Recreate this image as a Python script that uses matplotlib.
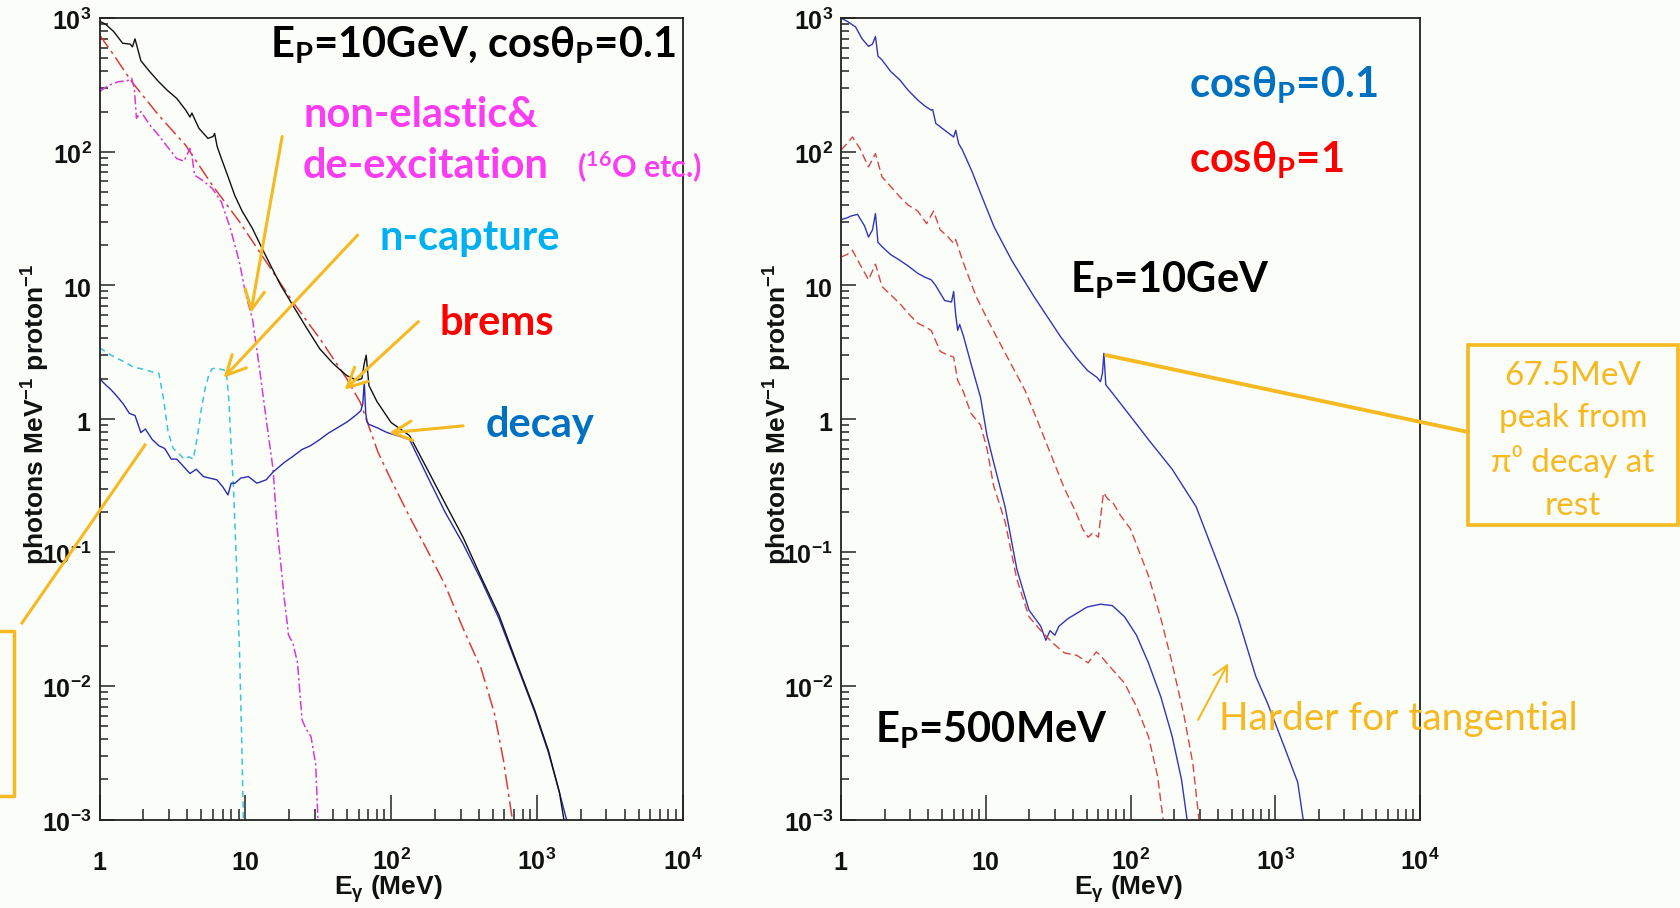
import matplotlib
matplotlib.use('Agg')
import matplotlib.pyplot as plt
import matplotlib.transforms as mtransforms
from matplotlib.lines import Line2D
from matplotlib.patches import Rectangle
from matplotlib.ticker import LogLocator, NullFormatter

plt.rcParams['mathtext.fontset'] = 'custom'
plt.rcParams['mathtext.rm'] = 'Lato:bold'
plt.rcParams['mathtext.it'] = 'Lato:bold'
plt.rcParams['mathtext.bf'] = 'Lato:bold'
plt.rcParams['mathtext.sf'] = 'Liberation Sans:bold'
plt.rcParams['mathtext.fallback'] = 'stixsans'

# ---- left panel: Ep = 10 GeV, cos(theta) = 0.1, by process ----
e_total = [1.0, 1.1, 1.25, 1.44, 1.62, 1.68, 1.75, 1.92, 2.2, 2.54, 2.9, 3.38, 3.9, 4.17,
           4.3, 4.8, 5.54, 6.0, 6.16, 6.4, 6.85, 7.5, 8.47, 9.5, 11.2, 13, 14.9, 17.5, 21.2,
           26, 32.4, 40, 49.6, 58, 63, 65.5, 67.5, 70.5, 80, 100, 134, 178, 235, 312, 416,
           550, 727, 968, 1200, 1430, 1535]
y_total = [950, 900, 794, 649, 640, 610, 700, 480, 400, 335, 290, 251, 205, 182,
           195, 150, 126, 130, 137, 110, 89, 68, 47, 36, 26.6, 19, 14.1, 10, 7.08,
           4.9, 3.35, 2.6, 2.11, 1.95, 2.0, 2.6, 3.0, 1.78, 1.35, 0.94, 0.75, 0.417, 0.233,
           0.13, 0.065, 0.034, 0.015, 0.0066, 0.0033, 0.0016, 0.001]

e_decay = [1.0, 1.1, 1.2, 1.3, 1.45, 1.6, 1.75, 1.92, 2.06, 2.3, 2.55, 2.8, 3.1, 3.38, 3.7,
           4.17, 4.6, 5.16, 5.7, 6.38, 7.0, 7.6, 8.0, 8.5, 9.3, 10.5, 12, 13.9, 15.5, 18.4,
           21, 24.5, 28, 32.4, 37, 43, 50, 57, 62, 64, 65.5, 67, 68.5, 70.5, 80, 94, 110,
           134, 178, 235, 312, 416, 550, 727, 968, 1200, 1430, 1600]
y_decay = [2.0, 1.8, 1.65, 1.5, 1.3, 1.1, 1.06, 0.79, 0.84, 0.7, 0.63, 0.6, 0.5, 0.5, 0.45,
           0.39, 0.42, 0.37, 0.36, 0.35, 0.31, 0.27, 0.33, 0.33, 0.36, 0.37, 0.33, 0.35, 0.4,
           0.47, 0.52, 0.59, 0.63, 0.70, 0.78, 0.86, 0.95, 1.06, 1.15, 1.3, 1.9, 1.1, 0.95,
           0.91, 0.86, 0.79, 0.75, 0.70, 0.37, 0.2, 0.116, 0.062, 0.032, 0.0145, 0.0064,
           0.0032, 0.0016, 0.001]

e_ncap = [1.0, 1.2, 1.45, 1.7, 2.0, 2.3, 2.55, 2.75, 2.95, 3.2, 3.5, 3.8, 4.1, 4.4, 4.7, 5.0,
          5.3, 5.6, 5.9, 6.3, 6.8, 7.4, 7.7, 7.9, 8.3, 8.7, 9.1, 9.4, 9.7]
y_ncap = [3.4, 3.0, 2.7, 2.45, 2.35, 2.25, 2.2, 1.4, 0.8, 0.6, 0.55, 0.5, 0.52, 0.5, 0.75, 1.2,
          1.7, 2.1, 2.37, 2.4, 2.35, 2.3, 1.4, 0.8, 0.3, 0.08, 0.02, 0.005, 0.001]

e_nonel = [1.0, 1.08, 1.17, 1.35, 1.55, 1.66, 1.73, 1.79, 1.92, 2.2, 2.54, 2.9, 3.38, 3.8,
           4.17, 4.3, 4.48, 5.2, 5.95, 6.85, 7.9, 9.1, 10.1, 11.2, 12.5, 13.9, 15.5, 16.5,
           18.4, 19.8, 21.2, 22.8, 24.5, 26, 28.2, 30.4, 31.5]
y_nonel = [282, 300, 316, 335, 340, 355, 300, 178, 200, 160, 133, 110, 89, 85,
           106, 95, 67, 60, 53, 42, 26.6, 15, 8.4, 5.6, 2.4, 1.0, 0.42, 0.155,
           0.048, 0.024, 0.021, 0.015, 0.0056, 0.0048, 0.0042, 0.0026, 0.001]

e_brems = [1.0, 1.25, 1.66, 2.54, 3.89, 5.95, 9.1, 13.9, 21.2, 32.4, 49.6, 61.5, 81.5, 100,
           134, 178, 235, 312, 416, 511, 590, 680]
y_brems = [750, 530, 335, 188, 112, 56, 30, 15, 7.5, 4.0, 2.0, 1.33, 0.56, 0.35,
           0.185, 0.103, 0.057, 0.027, 0.0134, 0.0063, 0.0028, 0.001]

# ---- right panel: cos(theta) = 0.1 (blue) vs 1 (red) ----
e_b10 = [1.0, 1.1, 1.26, 1.4, 1.55, 1.65, 1.73, 1.8, 1.92, 2.2, 2.55, 2.9, 3.39, 3.8, 4.2,
         4.3, 4.52, 5.2, 6.0, 6.2, 6.5, 6.9, 8.0, 9.2, 11.4, 15.1, 21.6, 33, 42, 50.5, 58.5,
         62, 64, 65.5, 67.5, 72, 89, 119, 133, 194, 284, 416, 550, 734, 886, 1180, 1430, 1560]
y_b10 = [1000, 950, 860, 700, 615, 640, 730, 520, 487, 400, 345, 290, 244, 220, 205,
         207, 163, 145, 129, 145, 115, 103, 72, 49, 27.5, 15.4, 8.2, 4.1, 2.9, 2.3, 2.05,
         1.9, 2.2, 3.1, 1.8, 1.65, 1.23, 0.82, 0.7, 0.42, 0.22, 0.075, 0.033, 0.0118,
         0.0074, 0.0033, 0.0019, 0.001]

e_r10 = [1.0, 1.1, 1.2, 1.35, 1.55, 1.73, 1.92, 2.2, 2.55, 2.9, 3.39, 3.9, 4.36, 4.85, 5.5,
         6.0, 6.2, 6.9, 8.6, 10.6, 14.1, 18.7, 23.2, 28, 35, 42, 46.7, 51, 55, 60, 65, 70,
         75, 85, 100, 133, 161, 194, 235, 270, 297]
y_r10 = [103, 115, 129, 106, 77, 97, 65, 55, 46, 40, 36, 29, 36, 26, 23,
         20.6, 22, 15.4, 8.2, 5.2, 2.9, 1.63, 0.92, 0.55, 0.3, 0.2, 0.15, 0.13, 0.14, 0.13,
         0.28, 0.25, 0.24, 0.19, 0.15, 0.067, 0.033, 0.0148, 0.0059, 0.0026, 0.001]

e_b05 = [1.0, 1.1, 1.17, 1.3, 1.45, 1.55, 1.65, 1.73, 1.8, 1.92, 2.2, 2.55, 2.9, 3.39, 3.8,
         4.2, 4.5, 5.2, 5.8, 6.0, 6.2, 6.4, 6.6, 7.0, 7.9, 9.2, 10.2, 11.3, 13.6, 16.4, 19.9,
         24, 26, 27.8, 30, 32, 37, 42.5, 50, 62, 75, 91, 110, 133, 162, 194, 225, 246]
y_b05 = [31, 32, 33, 34, 28, 23, 26, 34.5, 21, 19.5, 17, 15.4, 14, 12.3, 11.5,
         11, 10, 7.7, 7.5, 9.0, 6.0, 4.6, 5.1, 4.2, 2.6, 1.45, 0.75, 0.48, 0.22, 0.075, 0.037,
         0.028, 0.022, 0.026, 0.024, 0.028, 0.032, 0.035, 0.039, 0.041, 0.040, 0.033, 0.024,
         0.0149, 0.0083, 0.0042, 0.002, 0.001]

e_r05 = [1.0, 1.1, 1.2, 1.35, 1.55, 1.73, 1.92, 2.2, 2.55, 2.9, 3.39, 3.8, 4.2, 4.85, 5.5,
         6.0, 6.4, 7.0, 7.9, 9.2, 10.2, 11.3, 13.6, 16.4, 19.9, 24, 29, 35, 42.5, 51, 58,
         62, 68, 75, 91, 110, 133, 154, 168]
y_r05 = [16.3, 17, 18.3, 14.4, 11, 14.4, 9.8, 8.5, 7.3, 6.2, 5.2, 4.9, 4.6, 3.2, 3.0,
         2.9, 1.94, 1.6, 1.1, 0.9, 0.6, 0.32, 0.17, 0.063, 0.033, 0.026, 0.021, 0.0177,
         0.017, 0.0149, 0.018, 0.017, 0.015, 0.0133, 0.0105, 0.007, 0.0042, 0.0021, 0.001]

x_ticks = [1, 10, 100, 1000, 10000]
x_tick_labels = ['1', '10', '10^{2}', '10^{3}', '10^{4}']
y_ticks = [1e-3, 1e-2, 1e-1, 1, 10, 100, 1000]
y_tick_labels = ['10^{-3}', '10^{-2}', '10^{-1}', '1', '10', '10^{2}', '10^{3}']

W, H = 1680, 908
ORANGE = '#f5b921'
BG = '#fbfdf9'
BIG = 30


def fx(p):
    return p / W


def fy(p):
    return 1 - p / H


fig = plt.figure(figsize=(W / 100, H / 100), dpi=100, facecolor=BG)
ax1 = fig.add_axes([fx(99.6), fy(819.6), 582.9 / W, 801.4 / H])
ax2 = fig.add_axes([fx(841), fy(819.6), 579 / W, 801.4 / H])


def setup(ax):
    ax.set_facecolor(BG)
    ax.set_xscale('log')
    ax.set_yscale('log')
    ax.set_xlim(1, 1e4)
    ax.set_ylim(1e-3, 1e3)
    for axis in (ax.xaxis, ax.yaxis):
        axis.set_major_locator(LogLocator(base=10, numticks=20))
        axis.set_minor_locator(LogLocator(base=10, subs=range(2, 10), numticks=100))
        axis.set_minor_formatter(NullFormatter())
    ax.tick_params(which='both', direction='in', top=False, right=False,
                   labelbottom=False, labelleft=False, width=1.1, color='#222222')
    ax.tick_params(axis='x', which='major', length=18)
    ax.tick_params(axis='x', which='minor', length=8)
    ax.tick_params(axis='y', which='major', length=11)
    ax.tick_params(axis='y', which='minor', length=6)
    for s in ax.spines.values():
        s.set_linewidth(1.3)
        s.set_color('#222222')
    xt = mtransforms.offset_copy(ax.get_xaxis_transform(), fig=fig, y=-50, units='dots')
    for v, lab in zip(x_ticks, x_tick_labels):
        ax.text(v, 0, r'$\mathsf{' + lab + '}$', transform=xt, ha='center',
                va='baseline', fontsize=18, color='#111111')
    yt = mtransforms.offset_copy(ax.get_yaxis_transform(), fig=fig, x=-8, y=-12, units='dots')
    for v, lab in zip(y_ticks, y_tick_labels):
        ax.text(0, v, r'$\mathsf{' + lab + '}$', transform=yt, ha='right',
                va='baseline', fontsize=18, color='#111111')


setup(ax1)
setup(ax2)

# left panel curves
ax1.plot(e_brems, y_brems, color='#d83c3c', lw=1.1, dashes=(10, 3, 2, 3))
ax1.plot(e_nonel, y_nonel, color='#d838d8', lw=1.1, dashes=(6, 2, 1.5, 2))
ax1.plot(e_ncap, y_ncap, color='#3cc4d6', lw=1.1, dashes=(4, 3))
ax1.plot(e_decay, y_decay, color='#2b2bb0', lw=1.0)
ax1.plot(e_total, y_total, color='#111111', lw=1.0)

# right panel curves
ax2.plot(e_b10, y_b10, color='#3535b5', lw=1.0)
ax2.plot(e_b05, y_b05, color='#3535b5', lw=1.0)
ax2.plot(e_r10, y_r10, color='#d84545', lw=1.0, dashes=(6, 3))
ax2.plot(e_r05, y_r05, color='#d84545', lw=1.0, dashes=(6, 3))

# axis titles
for xc in (388, 1128):
    fig.text(fx(xc), fy(895), r'$\mathsf{E_{\gamma}\ (MeV)}$', ha='center', va='baseline',
             fontsize=19, color='#111111')
for xc in (36, 778):
    fig.text(fx(xc), fy(414), r'$\mathsf{photons\ MeV^{-1}\ proton^{-1}}$', rotation=90,
             ha='center', va='center', fontsize=19, color='#111111')

bold = dict(family='Lato', weight='bold', ha='left', va='baseline')

# left panel labels
fig.text(fx(270), fy(57), r'$\mathrm{E_P}$=10GeV, cos$\mathrm{\theta_P}$=0.1',
         fontsize=BIG, color='black', **bold)
fig.text(fx(303), fy(127), 'non-elastic&', fontsize=BIG, color='#fa3cf2', **bold)
fig.text(fx(303), fy(178), 'de-excitation', fontsize=BIG, color='#fa3cf2', **bold)
fig.text(fx(577), fy(178), r'$\mathrm{(^{16}O}$ etc.)', fontsize=22, color='#fa3cf2', **bold)
fig.text(fx(380), fy(250), 'n-capture', fontsize=BIG, color='#00b0f0', **bold)
fig.text(fx(440), fy(335), 'brems', fontsize=BIG, color='#ff0000', **bold)
fig.text(fx(486), fy(437), 'decay', fontsize=BIG, color='#0070c0', **bold)

arrow = dict(arrowstyle='->,head_length=0.7,head_width=0.35', color=ORANGE, lw=2.2,
             shrinkA=0, shrinkB=0, mutation_scale=20)
ax1.annotate('', xy=(10.9, 6.2), xytext=(17.9, 130), arrowprops=arrow)
ax1.annotate('', xy=(7.1, 2.03), xytext=(59, 23.8), arrowprops=arrow)
ax1.annotate('', xy=(47.9, 1.65), xytext=(154, 5.35), arrowprops=arrow)
ax1.annotate('', xy=(97, 0.785), xytext=(312, 0.887), arrowprops=arrow)

# left-edge pointer and cropped box
fig.add_artist(Line2D([fx(22), fx(145)], [fy(623), fy(445)], color=ORANGE, lw=2.2))
fig.add_artist(Line2D([fx(0), fx(14), fx(14), fx(0)], [fy(631), fy(631), fy(796), fy(796)],
                      color=ORANGE, lw=2.5))

# right panel labels
fig.text(fx(1189), fy(97), r'cos$\mathrm{\theta_P}$=0.1', fontsize=BIG, color='#0070c0', **bold)
fig.text(fx(1189), fy(172), r'cos$\mathrm{\theta_P}$=1', fontsize=BIG, color='#ff0000', **bold)
fig.text(fx(1070), fy(292), r'$\mathrm{E_P}$=10GeV', fontsize=BIG, color='black', **bold)
fig.text(fx(875), fy(742), r'$\mathrm{E_P}$=500MeV', fontsize=BIG, color='black', **bold)

# pi0 peak annotation
ax2.annotate('', xy=(68, 3.0), xycoords='data', xytext=(fx(1468), fy(432)),
             textcoords='figure fraction',
             arrowprops=dict(arrowstyle='-', color=ORANGE, lw=2.8, shrinkA=0, shrinkB=0))
fig.add_artist(Rectangle((fx(1468), fy(525)), 210 / W, 180 / H, fill=False,
                         edgecolor=ORANGE, lw=2.6))
reg = dict(family=['Lato', 'DejaVu Sans'], ha='center', va='baseline', fontsize=24,
           color=ORANGE)
fig.text(fx(1573), fy(385), '67.5MeV', **reg)
fig.text(fx(1573), fy(427), 'peak from', **reg)
fig.text(fx(1573), fy(472), 'π⁰ decay at', **reg)
fig.text(fx(1573), fy(515), 'rest', **reg)

# harder for tangential
ax2.annotate('', xy=(473, 0.0148), xytext=(293, 0.00558),
             arrowprops=dict(arrowstyle='->,head_length=0.6,head_width=0.3', color=ORANGE,
                             lw=1.5, shrinkA=0, shrinkB=0, mutation_scale=18))
fig.text(fx(1219), fy(730), 'Harder for tangential', family='Lato', ha='left',
         va='baseline', fontsize=28, color=ORANGE)

fig.savefig('out.png', dpi=100, facecolor=BG)
